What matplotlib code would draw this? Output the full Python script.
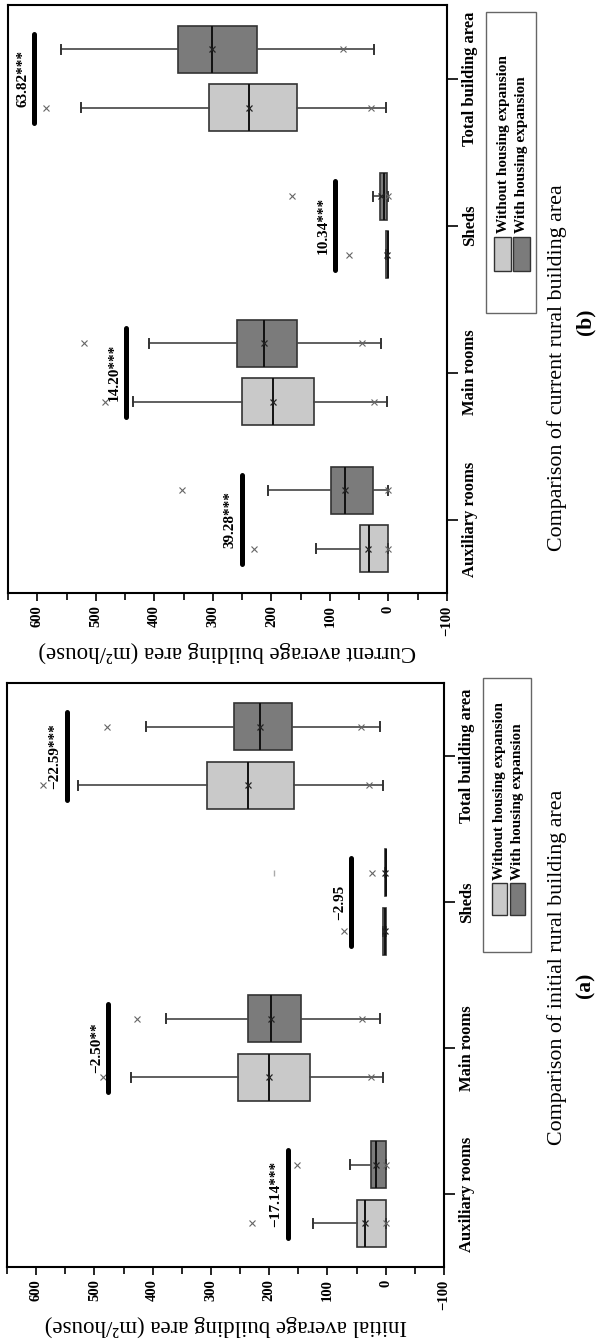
import matplotlib
matplotlib.use("Agg")
import matplotlib.pyplot as plt
from matplotlib.patches import Rectangle
from matplotlib.ticker import MultipleLocator

plt.rcParams['font.family'] = ['Liberation Serif', 'DejaVu Serif']

# ---------------- data ----------------
categories = ["Auxiliary rooms", "Main rooms", "Sheds", "Total building area"]
group_names = ["Without housing expansion", "With housing expansion"]

# (b) current building area
cur_without_whislo = [0, 3, 0, 5]
cur_without_q1 = [0, 128, 0, 157]
cur_without_med = [34, 198, 1, 238]
cur_without_q3 = [49, 251, 4, 306]
cur_without_whishi = [124, 436, 5, 525]
cur_without_mean = [35, 198, 2, 238]
cur_without_marks = [[229, 0], [484, 24], [68], [585, 29]]

cur_with_whislo = [0, 12, 0, 24]
cur_with_q1 = [26, 156, 2, 224]
cur_with_med = [74, 213, 8, 301]
cur_with_q3 = [98, 258, 15, 359]
cur_with_whishi = [205, 409, 26, 559]
cur_with_mean = [74, 213, 12, 301]
cur_with_marks = [[352, 0], [521, 45], [164, 0], [77]]

cur_sig_labels = ["39.28***", "14.20***", "10.34***", "63.82***"]
cur_sig_level = [250, 448, 91, 605]

# (a) initial building area
ini_without_whislo = [0, 5, 0, 5]
ini_without_q1 = [0, 130, 0, 157]
ini_without_med = [35, 201, 1, 237]
ini_without_q3 = [50, 254, 5, 306]
ini_without_whishi = [125, 438, 5, 528]
ini_without_mean = [35, 201, 2, 237]
ini_without_marks = [[230, 0], [486, 26], [72], [588, 28]]

ini_with_whislo = [0, 10, 0, 10]
ini_with_q1 = [0, 145, 0, 161]
ini_with_med = [16, 197, 0, 215]
ini_with_q3 = [26, 237, 2, 261]
ini_with_whishi = [61, 377, 2, 412]
ini_with_mean = [16, 197, 1, 215]
ini_with_marks = [[152, 0], [427, 40], [24], [479, 43]]
ini_with_max = [None, None, 192, None]

ini_sig_labels = ["\u221217.14***", "\u22122.50**", "\u22122.95", "\u221222.59***"]
ini_sig_level = [168, 476, 59, 547]

# ---------------- layout helpers ----------------
W, H = 599, 1344
fig = plt.figure(figsize=(W / 100, H / 100), dpi=100)


def fx(x):
    return x / W


def fy(y):
    return 1 - y / H


LIGHT = "#c9c9c9"
DARK = "#7b7b7b"


def make_stats(whislo, q1, med, q3, whishi, mean, marks):
    out = []
    for i in range(len(categories)):
        out.append(dict(whislo=whislo[i], q1=q1[i], med=med[i], q3=q3[i],
                        whishi=whishi[i], mean=mean[i], fliers=marks[i]))
    return out


def draw_panel(box_px, stats_without, stats_with, sig_labels, sig_level,
               xlabel, max_marks=None):
    x0, y0, x1, y1 = box_px
    ax = fig.add_axes([fx(x0), fy(y1), fx(x1) - fx(x0), fy(y0) - fy(y1)])
    pos = list(range(1, len(categories) + 1))
    common = dict(widths=0.32, patch_artist=True, showmeans=True,
                  meanprops=dict(marker='x', markeredgecolor='#222',
                                 markersize=5, markeredgewidth=0.9),
                  flierprops=dict(marker='x', markeredgecolor='#666',
                                  markersize=5, markeredgewidth=0.8),
                  medianprops=dict(color='#111', linewidth=1.4),
                  boxprops=dict(edgecolor='#333', linewidth=1.2),
                  whiskerprops=dict(color='#444', linewidth=1.2),
                  capprops=dict(color='#333', linewidth=1.4),
                  capwidths=0.06)
    for stats, offs, col in ((stats_without, -0.2, LIGHT), (stats_with, 0.2, DARK)):
        p = [c + offs for c in pos]
        try:
            art = ax.bxp(stats, positions=p, orientation='horizontal', **common)
        except TypeError:
            art = ax.bxp(stats, positions=p, vert=False, **common)
        for b in art['boxes']:
            b.set_facecolor(col)
    if max_marks is not None:
        for i, v in enumerate(max_marks):
            if v is not None:
                ax.plot([v], [pos[i] + 0.2], marker='|', color='#aaa',
                        markersize=4, linestyle='none')
    # significance bars
    for i, (lab, lev) in enumerate(zip(sig_labels, sig_level)):
        ax.plot([lev, lev], [pos[i] - 0.3, pos[i] + 0.3], color='black',
                linewidth=3.6, solid_capstyle='round')
        ax.annotate(lab, xy=(lev, pos[i]), xytext=(-8.5, 0),
                    textcoords='offset points', rotation=90,
                    ha='center', va='center', fontsize=11, fontweight='bold')
    ax.set_xlim(650, -100)
    ax.set_ylim(0.5, len(categories) + 0.5)
    ax.xaxis.set_major_locator(MultipleLocator(100))
    ax.xaxis.set_minor_locator(MultipleLocator(50))
    ax.tick_params(axis='x', which='both', direction='out', top=False,
                   bottom=True, width=1.2)
    ax.tick_params(axis='x', which='major', length=6, pad=3)
    ax.tick_params(axis='x', which='minor', length=5)
    for t in ax.get_xticklabels():
        t.set_rotation(90)
        t.set_fontweight('bold')
        t.set_fontsize(10.5)
    ax.yaxis.tick_right()
    ax.set_yticks(pos)
    ax.set_yticklabels(categories, rotation=90, fontweight='bold',
                       fontsize=12, va='center')
    ax.tick_params(axis='y', which='both', direction='out', length=8,
                   width=1.2, pad=3, left=False, right=True)
    ax.set_xlabel(xlabel, rotation=180, fontsize=16.5, labelpad=4)
    for s in ax.spines.values():
        s.set_linewidth(1.5)
    return ax


def draw_legend(box, p_light, p_dark, text_x, text_y):
    bx0, by0, bx1, by1 = box
    fig.add_artist(Rectangle((fx(bx0), fy(by1)), fx(bx1) - fx(bx0),
                             fy(by0) - fy(by1), transform=fig.transFigure,
                             facecolor='white', edgecolor='#666', linewidth=1.0))
    for (px0, py0, px1, py1), col in ((p_light, LIGHT), (p_dark, DARK)):
        fig.add_artist(Rectangle((fx(px0), fy(py1)), fx(px1) - fx(px0),
                                 fy(py0) - fy(py1), transform=fig.transFigure,
                                 facecolor=col, edgecolor='#333', linewidth=1.0))
    for name, tx in zip(group_names, text_x):
        fig.text(fx(tx), fy(text_y), name, rotation=90, ha='center',
                 va='bottom', fontsize=11, fontweight='bold')


# ---------------- panel (b) ----------------
draw_panel((8, 5, 447, 593),
           make_stats(cur_without_whislo, cur_without_q1, cur_without_med,
                      cur_without_q3, cur_without_whishi, cur_without_mean,
                      cur_without_marks),
           make_stats(cur_with_whislo, cur_with_q1, cur_with_med,
                      cur_with_q3, cur_with_whishi, cur_with_mean,
                      cur_with_marks),
           cur_sig_labels, cur_sig_level,
           "Current average building area (m\u00b2/house)")
draw_legend((486, 12, 536, 313), (494, 237, 511, 271), (513, 237, 530, 271),
            (503, 522), 233)
fig.text(fx(557), fy(368), "Comparison of current rural building area",
         rotation=90, ha='center', va='center', fontsize=15.8)
fig.text(fx(585), fy(322), "(b)", rotation=90, ha='center', va='center',
         fontsize=15.5, fontweight='bold')

# ---------------- panel (a) ----------------
draw_panel((7, 683, 444, 1267),
           make_stats(ini_without_whislo, ini_without_q1, ini_without_med,
                      ini_without_q3, ini_without_whishi, ini_without_mean,
                      ini_without_marks),
           make_stats(ini_with_whislo, ini_with_q1, ini_with_med,
                      ini_with_q3, ini_with_whishi, ini_with_mean,
                      ini_with_marks),
           ini_sig_labels, ini_sig_level,
           "Initial average building area (m\u00b2/house)",
           max_marks=ini_with_max)
draw_legend((483, 678, 531, 952), (492, 883, 507, 915), (510, 883, 525, 915),
            (500, 518), 880)
fig.text(fx(557), fy(967), "Comparison of initial rural building area",
         rotation=90, ha='center', va='center', fontsize=15.8)
fig.text(fx(585), fy(985), "(a)", rotation=90, ha='center', va='center',
         fontsize=15.5, fontweight='bold')

fig.savefig("out.png", dpi=100)
